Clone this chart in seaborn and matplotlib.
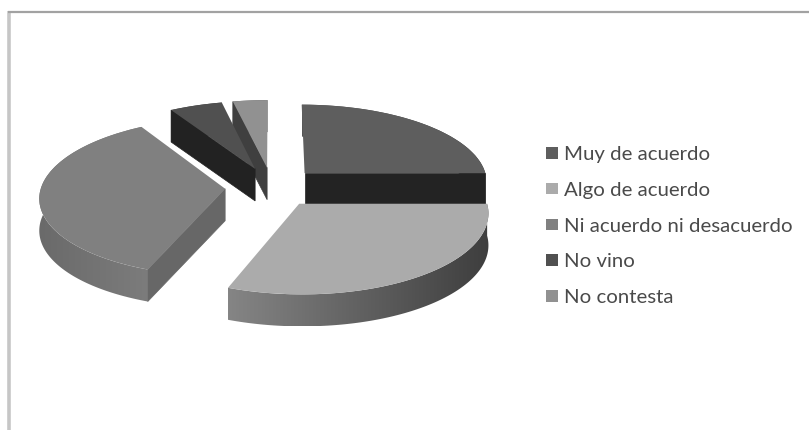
import numpy as np
import matplotlib
matplotlib.use('Agg')
import matplotlib.pyplot as plt
from matplotlib.patches import Polygon
from matplotlib.transforms import Transform
import seaborn as sns

categories = ['Muy de acuerdo', 'Algo de acuerdo', 'Ni acuerdo ni desacuerdo', 'No vino', 'No contesta']
values = [25, 30.8, 35.6, 5.2, 3.4]

top_colors = ['#5e5e5e', '#ababab', '#808080', '#505050', '#919191']
cut_colors = ['#232323', '#555555', '#676767', '#222222', '#3f3f3f']
rim_left = ['#555555', '#858585', '#6a6a6a', '#444444', '#666666']
rim_right = ['#333333', '#3e3e3e', '#7c7c7c', '#333333', '#555555']
# back to front, so nearer slices paint over the far ones
draw_order = [4, 3, 0, 2, 1]

CX, CY = 272, 187
RX, RY = 184, 78
TILT = 0.1
DEPTH = 32


class PieTilt(Transform):
    # fake perspective for the flat pie, far side smaller than near side
    input_dims = 2
    output_dims = 2
    is_separable = False
    has_inverse = False

    def transform_non_affine(self, values):
        xy = np.asarray(values, dtype=float)
        w = 1 + TILT * xy[:, 1]
        return np.column_stack((CX + RX * xy[:, 0] / w, CY - RY * xy[:, 1] / w))


def unit_pt(wedge, angle):
    a = np.radians(angle)
    return np.column_stack((wedge.center[0] + wedge.r * np.cos(a), wedge.center[1] + wedge.r * np.sin(a)))


def drop(xy):
    # move screen points down by the thickness of the pie
    out = xy.copy()
    out[:, 1] += DEPTH
    return out


def draw_cut(ax, tilt, wedge, angle, color, z):
    tip = tilt.transform_non_affine(np.array([wedge.center]))
    end = tilt.transform_non_affine(unit_pt(wedge, angle))
    pts = np.vstack((tip, end, drop(end), drop(tip)))
    ax.add_patch(Polygon(pts, closed=True, facecolor=color, edgecolor=color, linewidth=0.5, zorder=z))


def draw_rim(ax, tilt, wedge, left, right, z):
    arc = tilt.transform_non_affine(unit_pt(wedge, np.linspace(wedge.theta1, wedge.theta2, 120)))
    band = np.vstack((arc, drop(arc)[::-1]))
    x0, x1 = band[:, 0].min(), band[:, 0].max()
    y0, y1 = band[:, 1].min(), band[:, 1].max()
    cmap = sns.blend_palette([left, right], as_cmap=True)
    grad = np.linspace(0, 1, 256).reshape(1, -1)
    im = ax.imshow(grad, cmap=cmap, extent=(x0, x1, y1, y0), aspect='auto', zorder=z)
    im.set_clip_path(Polygon(band, closed=True, transform=ax.transData))


sns.set_theme(style='white')
plt.rcParams['font.family'] = ['Lato', 'DejaVu Sans']

fig = plt.figure(figsize=(8.09, 4.30), dpi=100)
ax = fig.add_axes([0, 0, 1, 1])

wedges, _ = ax.pie(values, labels=None, colors=sns.color_palette(top_colors), startangle=90,
                   counterclock=False, explode=[0.255] * len(values), radius=1,
                   wedgeprops={'linewidth': 0, 'edgecolor': 'none'})

tilt = PieTilt()
for n, i in enumerate(draw_order):
    w = wedges[i]
    z = 2 + n
    draw_rim(ax, tilt, w, rim_left[i], rim_right[i], z)
    # only the cut faces that look towards the viewer
    for angle, normal in ((w.theta1, w.theta1 - 90), (w.theta2, w.theta2 + 90)):
        if np.sin(np.radians(normal)) < -1e-6:
            draw_cut(ax, tilt, w, angle, cut_colors[i], z + 0.1)
    w.set_transform(tilt + ax.transData)
    w.set_clip_on(False)
    w.set_zorder(z + 0.2)

ax.set_aspect('auto')
ax.set_xlim(0, 809)
ax.set_ylim(430, 0)
ax.set_axis_off()

# slide frame, only left and top show in the crop
ax.plot([9.5, 9.5], [11, 430], color='#c6c6c6', lw=2.6, solid_capstyle='butt', zorder=1)
ax.plot([8, 809], [12, 12], color='#a2a2a2', lw=1.6, solid_capstyle='butt', zorder=1)

ax.legend(wedges, categories, loc='upper left', bbox_to_anchor=(546, 146), bbox_transform=ax.transData,
          frameon=False, borderpad=0, borderaxespad=0, fontsize=14.7, labelspacing=0.92,
          handlelength=0.6, handleheight=0.5, handletextpad=0.3, labelcolor='#4a4a4a')

fig.savefig('out.png', dpi=100)
